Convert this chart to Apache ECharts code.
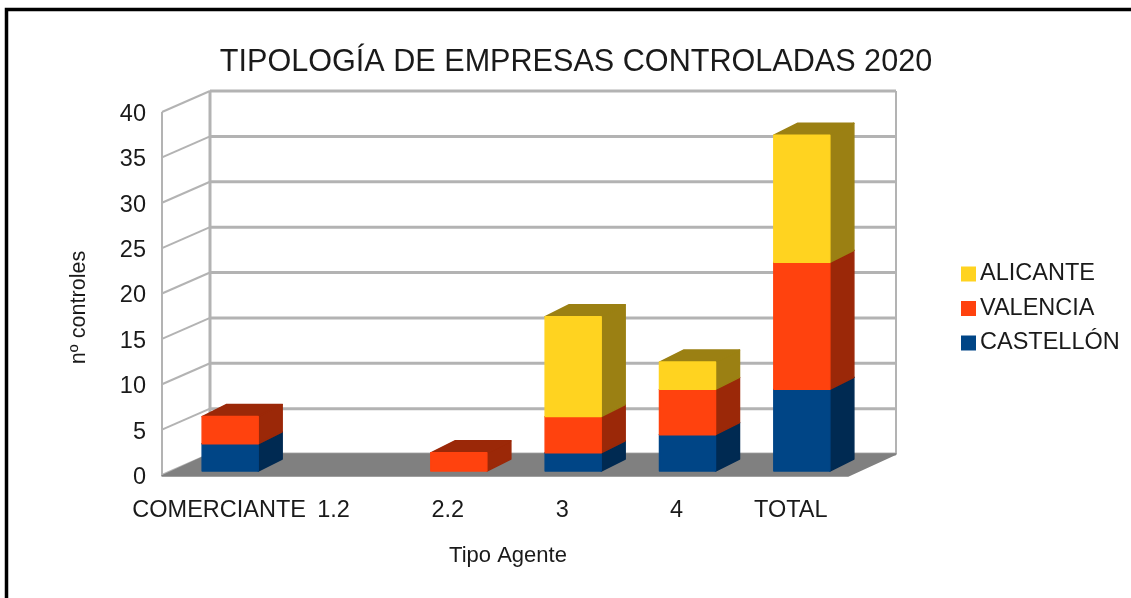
<!DOCTYPE html>
<html>
<head>
<meta charset="utf-8">
<style>
    html, body { margin: 0; padding: 0; background: #fff; }
    #chart { width: 1131px; height: 598px; filter: blur(0.5px); }
</style>
<script src="https://cdn.jsdelivr.net/npm/echarts@6/dist/echarts.min.js"></script>
</head>
<body>
<div id="chart"></div>
<script>
// datos
const categories = ['COMERCIANTE', '1.2', '2.2', '3', '4', 'TOTAL'];
const castellon = [3, 0, 0, 2, 4, 9];
const valencia = [3, 0, 2, 4, 5, 14];
const alicante = [0, 0, 0, 11, 3, 14];
const yTicks = [0, 5, 10, 15, 20, 25, 30, 35, 40];

// profundidad de la caja y de las barras, en pixeles
const WALL_DX = 48, WALL_DY = -21;
const BAR_DX = 24, BAR_DY = -12;
const BAR_SHIFT_X = 11, BAR_SHIFT_Y = -4;
const BAR_WIDTH = 56;

const font = '"Liberation Sans", Arial, sans-serif';
const textColor = '#1a1a1a';

let chart = echarts.init(document.getElementById('chart'), null, {renderer: 'canvas'});

function poly(points, fill) {
    return {
        type: 'polygon',
        shape: {points: points},
        style: {fill: fill, stroke: fill, lineWidth: 1.5, lineJoin: 'round'}
    };
}

function line(a, b, width) {
    return {
        type: 'line',
        shape: {x1: a[0], y1: a[1], x2: b[0], y2: b[1]},
        style: {stroke: '#b3b3b3', lineWidth: width}
    };
}

// paredes, suelo y rejilla
function renderBox(params, api) {
    if(params.dataIndex !== 0) {
        return;
    }
    let c = params.coordSys;
    let left = c.x, right = c.x + c.width;
    let children = [];

    yTicks.forEach(tick => {
        let y = api.coord([0, tick])[1];
        children.push(line([left, y], [left + WALL_DX, y + WALL_DY], 2));
        children.push(line([left + WALL_DX, y + WALL_DY], [right + WALL_DX, y + WALL_DY], 3));
    });

    let top = api.coord([0, 40])[1], bottom = api.coord([0, 0])[1];
    children.push(line([left, top], [left, bottom + 1], 2));
    children.push(line([left + WALL_DX, top + WALL_DY], [left + WALL_DX, bottom + WALL_DY], 3));
    children.push(line([right + WALL_DX, top + WALL_DY], [right + WALL_DX, bottom + WALL_DY], 2));
    children.push(poly([
        [left, bottom + 1],
        [right, bottom + 1],
        [right + WALL_DX, bottom + WALL_DY],
        [left + WALL_DX, bottom + WALL_DY]
    ], '#808080'));

    return {type: 'group', children: children};
}

// devuelve el renderItem de una serie apilada
function renderStack(values, below, colors) {
    return (params, api) => {
        let i = params.dataIndex;
        let value = values[i];
        if(!value) {
            return;
        }
        let base = below.reduce((sum, arr) => sum + arr[i], 0);
        let p0 = api.coord([i, base]);
        let p1 = api.coord([i, base + value]);
        let x0 = p0[0] - BAR_WIDTH / 2 + BAR_SHIFT_X;
        let x1 = x0 + BAR_WIDTH;
        let y0 = p0[1] + BAR_SHIFT_Y;
        let y1 = p1[1] + BAR_SHIFT_Y;
        return {
            type: 'group',
            children: [
                poly([[x1, y0], [x1 + BAR_DX, y0 + BAR_DY], [x1 + BAR_DX, y1 + BAR_DY], [x1, y1]], colors[1]),
                poly([[x0, y1], [x1, y1], [x1 + BAR_DX, y1 + BAR_DY], [x0 + BAR_DX, y1 + BAR_DY]], colors[2]),
                poly([[x0, y0], [x1, y0], [x1, y1], [x0, y1]], colors[0])
            ]
        };
    };
}

function barSeries(name, values, below, colors) {
    return {
        name: name,
        type: 'custom',
        renderItem: renderStack(values, below, colors),
        data: values.map((v, i) => [i, v]),
        encode: {x: 0, y: 1},
        itemStyle: {color: colors[0]},
        clip: false,
        z: 3
    };
}

let option = {
    animation: false,
    backgroundColor: '#fff',
    // marco: solo izquierda y arriba, el resto queda fuera del recorte
    graphic: [{
        type: 'polyline',
        shape: {points: [[6.5, 610], [6.5, 9.5], [1140, 9.5]]},
        style: {fill: 'none', stroke: '#000', lineWidth: 3.5},
        silent: true
    }],
    title: {
        text: 'TIPOLOGÍA DE EMPRESAS CONTROLADAS 2020',
        left: 571,
        top: 42,
        textAlign: 'center',
        textStyle: {fontFamily: font, fontSize: 30.6, fontWeight: 'normal', color: textColor}
    },
    legend: {
        data: ['ALICANTE', 'VALENCIA', 'CASTELLÓN'],
        orient: 'vertical',
        left: 956,
        top: 257,
        itemWidth: 15,
        itemHeight: 15,
        itemGap: 10.5,
        icon: 'rect',
        textStyle: {fontFamily: font, fontSize: 23.5, color: textColor, padding: [0, 0, 0, -1]}
    },
    grid: {left: 162, right: 283, top: 112, bottom: 123},
    xAxis: {
        type: 'category',
        data: categories,
        name: 'Tipo Agente',
        nameLocation: 'middle',
        nameGap: 70,
        nameTextStyle: {fontFamily: font, fontSize: 22, color: textColor, padding: [0, 0, 0, 6]},
        axisLine: {show: false},
        axisTick: {show: false},
        axisLabel: {fontFamily: font, fontSize: 23.5, color: textColor, margin: 24, interval: 0}
    },
    yAxis: {
        type: 'value',
        min: 0,
        max: 40,
        interval: 5,
        name: 'nº controles',
        nameLocation: 'middle',
        nameGap: 72,
        nameTextStyle: {fontFamily: font, fontSize: 21.6, color: textColor, padding: [0, 28, 0, 0]},
        axisLine: {show: false},
        axisTick: {show: false},
        splitLine: {show: false},
        axisLabel: {
            margin: 16,
            formatter: '{n|{value}}',
            rich: {
                n: {fontFamily: font, fontSize: 23.5, color: textColor, padding: [5, 0, 0, 0]}
            }
        }
    },
    series: [
        {
            type: 'custom',
            renderItem: renderBox,
            data: [[0, 0]],
            encode: {x: 0, y: 1},
            clip: false,
            silent: true,
            z: 1
        },
        barSeries('CASTELLÓN', castellon, [], ['#004586', '#002a52', '#002a52']),
        barSeries('VALENCIA', valencia, [castellon], ['#ff420e', '#9b2808', '#9b2808']),
        barSeries('ALICANTE', alicante, [castellon, valencia], ['#ffd320', '#9b8013', '#9b8013'])
    ]
};

chart.setOption(option);
</script>
</body>
</html>
